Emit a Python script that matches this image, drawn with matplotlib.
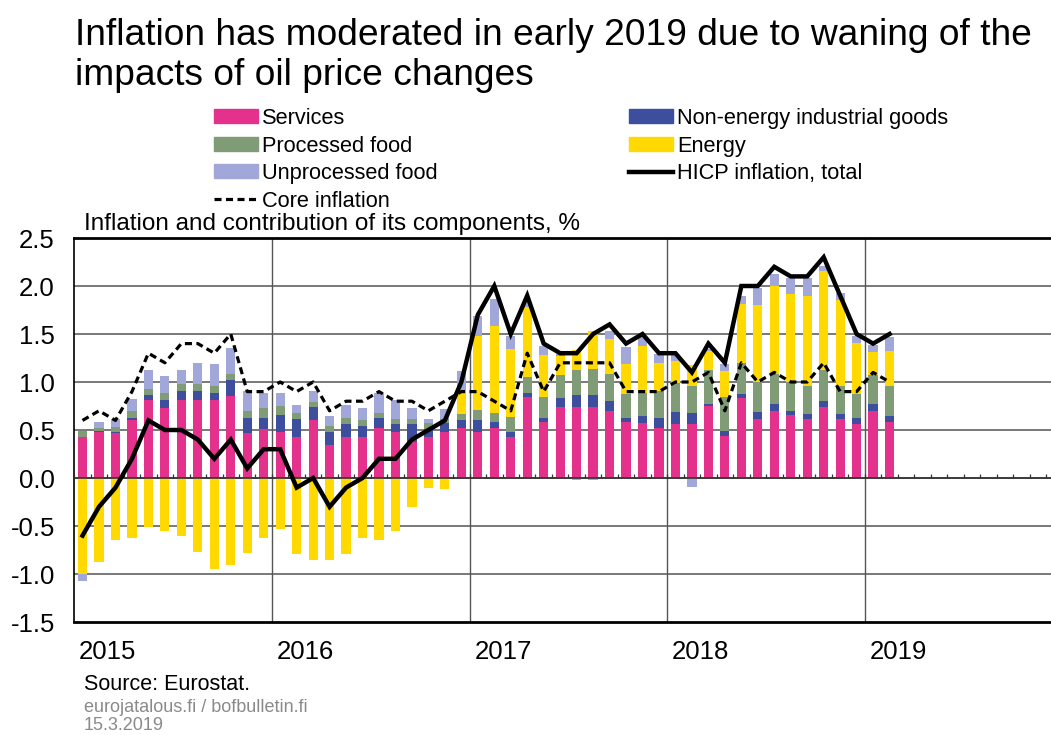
import matplotlib
matplotlib.use("Agg")
import matplotlib.pyplot as plt
import matplotlib.transforms as mtransforms
from matplotlib.patches import Patch
from matplotlib.lines import Line2D
import numpy as np

plt.rcParams['font.family'] = ['Liberation Sans', 'DejaVu Sans']

# Monthly data, Jan 2015 .. Feb 2019
months = [f"{y}-{m:02d}" for y in range(2015, 2020) for m in range(1, 13)][:50]
years = ["2015", "2016", "2017", "2018", "2019"]

services = [0.43, 0.48, 0.47, 0.60, 0.81, 0.73, 0.81, 0.81, 0.81, 0.85, 0.47, 0.51,
            0.48, 0.43, 0.60, 0.34, 0.43, 0.43, 0.52, 0.48, 0.38, 0.43, 0.48, 0.52,
            0.48, 0.52, 0.43, 0.84, 0.58, 0.74, 0.74, 0.74, 0.70, 0.58, 0.57, 0.52,
            0.56, 0.56, 0.75, 0.44, 0.83, 0.61, 0.70, 0.66, 0.61, 0.74, 0.61, 0.56,
            0.70, 0.58]
neig = [0.00, 0.01, 0.01, 0.02, 0.05, 0.08, 0.10, 0.10, 0.08, 0.17, 0.15, 0.12,
        0.18, 0.18, 0.14, 0.14, 0.13, 0.11, 0.10, 0.08, 0.18, 0.08, 0.09, 0.08,
        0.12, 0.06, 0.05, 0.05, 0.04, 0.09, 0.12, 0.12, 0.10, 0.04, 0.08, 0.11,
        0.13, 0.12, 0.02, 0.05, 0.05, 0.08, 0.07, 0.04, 0.06, 0.06, 0.06, 0.06,
        0.07, 0.07]
processed = [0.06, 0.03, 0.05, 0.08, 0.07, 0.08, 0.07, 0.07, 0.07, 0.06, 0.08, 0.10,
             0.09, 0.07, 0.05, 0.06, 0.07, 0.06, 0.06, 0.05, 0.05, 0.06, 0.04, 0.07,
             0.11, 0.10, 0.16, 0.16, 0.22, 0.24, 0.26, 0.28, 0.28, 0.26, 0.24, 0.28,
             0.30, 0.28, 0.35, 0.35, 0.32, 0.31, 0.31, 0.30, 0.29, 0.32, 0.29, 0.26,
             0.30, 0.31]
energy = [-1.00, -0.87, -0.65, -0.62, -0.51, -0.55, -0.60, -0.77, -0.95, -0.91, -0.78, -0.62,
          -0.53, -0.79, -0.85, -0.85, -0.79, -0.63, -0.65, -0.55, -0.30, -0.10, -0.11, 0.22,
          0.77, 0.90, 0.70, 0.73, 0.44, 0.20, 0.21, 0.39, 0.37, 0.31, 0.48, 0.29,
          0.23, 0.22, 0.20, 0.27, 0.61, 0.80, 0.92, 0.92, 0.94, 1.04, 0.89, 0.53,
          0.24, 0.36]
unprocessed = [-0.07, 0.06, 0.08, 0.12, 0.19, 0.17, 0.14, 0.22, 0.23, 0.27, 0.21, 0.16,
               0.14, 0.08, 0.12, 0.11, 0.13, 0.13, 0.21, 0.20, 0.12, 0.04, 0.11, 0.22,
               0.21, 0.28, 0.14, 0.05, 0.09, 0.02, -0.02, -0.02, 0.08, 0.17, 0.11, 0.09,
               0.06, -0.09, 0.02, 0.08, 0.09, 0.18, 0.13, 0.16, 0.18, 0.05, 0.08, 0.07,
               0.08, 0.15]
hicp = [-0.6, -0.3, -0.1, 0.2, 0.6, 0.5, 0.5, 0.4, 0.2, 0.4, 0.1, 0.3,
        0.3, -0.1, 0.0, -0.3, -0.1, 0.0, 0.2, 0.2, 0.4, 0.5, 0.6, 1.0,
        1.7, 2.0, 1.5, 1.9, 1.4, 1.3, 1.3, 1.5, 1.6, 1.4, 1.5, 1.3,
        1.3, 1.1, 1.4, 1.2, 2.0, 2.0, 2.2, 2.1, 2.1, 2.3, 1.9, 1.5,
        1.4, 1.5]
core = [0.6, 0.7, 0.6, 0.9, 1.3, 1.2, 1.4, 1.4, 1.3, 1.5, 0.9, 0.9,
        1.0, 0.9, 1.0, 0.7, 0.8, 0.8, 0.9, 0.8, 0.8, 0.7, 0.8, 0.9,
        0.9, 0.8, 0.7, 1.3, 0.9, 1.2, 1.2, 1.2, 1.2, 0.9, 0.9, 0.9,
        1.0, 1.0, 1.1, 0.7, 1.2, 1.0, 1.1, 1.0, 1.0, 1.2, 0.9, 0.9,
        1.1, 1.0]

components = [
    ("Services", services, "#E4318B"),
    ("Non-energy industrial goods", neig, "#3D4E9E"),
    ("Processed food", processed, "#7F9C76"),
    ("Energy", energy, "#FFD900"),
    ("Unprocessed food", unprocessed, "#A2A7D9"),
]

W, H = 1051, 735
fig = plt.figure(figsize=(W / 100, H / 100), dpi=100)
ax_left, ax_right, ax_top, ax_bot = 74.3, 1051, 238, 622
ax = fig.add_axes([ax_left / W, 1 - ax_bot / H, (ax_right - ax_left) / W, (ax_bot - ax_top) / H])

x = np.arange(len(months))
pos = np.zeros(len(x))
neg = np.zeros(len(x))
for name, vals, col in components:
    v = np.array(vals)
    bottoms = np.where(v >= 0, pos, neg)
    ax.bar(x, v, bottom=bottoms, width=0.56, color=col, zorder=3, linewidth=0)
    pos = pos + np.where(v >= 0, v, 0)
    neg = neg + np.where(v < 0, v, 0)

ax.plot(x, hicp, color="black", lw=3.2, zorder=5, solid_joinstyle="miter")
ax.plot(x, core, color="black", lw=2.3, ls=(0, (2.2, 1.4)), zorder=5)

ax.set_xlim(-0.5, (ax_right - ax_left) / 16.47 - 0.5)
ax.set_ylim(-1.5, 2.5)
ax.set_yticks(np.arange(-1.5, 2.51, 0.5))
ax.set_yticklabels([f"{t:.1f}" for t in np.arange(-1.5, 2.51, 0.5)], fontsize=18.5)
ax.tick_params(axis="y", length=0, pad=14)
ax.set_xticks([])
for yv in np.arange(-1.0, 2.01, 0.5):
    ax.axhline(yv, color="#6e6e6e", lw=1.3, zorder=1)
for k in range(1, 5):
    ax.axvline(12 * k - 0.5, color="#555555", lw=1.0, zorder=1)
ax.axhline(0, color="#333333", lw=1.2, zorder=4)
ax.vlines(np.arange(0, 60) - 0.5, 0, 0.045, color="#333333", lw=0.9, zorder=4)

for s in ["top", "bottom"]:
    ax.spines[s].set_linewidth(2.0)
ax.spines["left"].set_linewidth(1.2)
ax.spines["right"].set_visible(False)

trans = mtransforms.blended_transform_factory(ax.transData, fig.transFigure)
for k, yl in enumerate(years):
    ax.text(12 * k - 0.2, 1 - 652 / H, yl, transform=trans, fontsize=18.5,
            ha="left", va="center")

fig.text(75 / W, 1 - 18 / H, "Inflation has moderated in early 2019 due to waning of the\nimpacts of oil price changes",
         fontsize=26.7, ha="left", va="top", linespacing=1.2)
fig.text(84 / W, 1 - 224 / H, "Inflation and contribution of its components, %", fontsize=17.5,
         ha="left", va="center")
fig.text(84 / W, 1 - 684 / H, "Source: Eurostat.", fontsize=15.5, ha="left", va="center")
fig.text(84 / W, 1 - 707 / H, "eurojatalous.fi / bofbulletin.fi", fontsize=13, color="#8a8a8a",
         ha="left", va="center")
fig.text(84 / W, 1 - 726 / H, "15.3.2019", fontsize=13, color="#8a8a8a", ha="left", va="center")

cols = {n: c for n, _, c in components}
h1 = [Patch(color=cols["Services"]), Patch(color=cols["Processed food"]),
      Patch(color=cols["Unprocessed food"]),
      Line2D([], [], color="black", lw=2.3, ls=(0, (2.2, 1.4)))]
l1 = ["Services", "Processed food", "Unprocessed food", "Core inflation"]
h2 = [Patch(color=cols["Non-energy industrial goods"]), Patch(color=cols["Energy"]),
      Line2D([], [], color="black", lw=3.2)]
l2 = ["Non-energy industrial goods", "Energy", "HICP inflation, total"]
common = dict(frameon=False, fontsize=15.7, handlelength=2.0, handleheight=0.6,
              handletextpad=0.2, labelspacing=0.3, borderpad=0, borderaxespad=0,
              loc="upper left")
leg1 = fig.legend(h1, l1, bbox_to_anchor=(214 / W, 1 - 108 / H), **common)
leg2 = fig.legend(h2, l2, bbox_to_anchor=(629 / W, 1 - 108 / H), **common)

fig.savefig("out.png", dpi=100)
